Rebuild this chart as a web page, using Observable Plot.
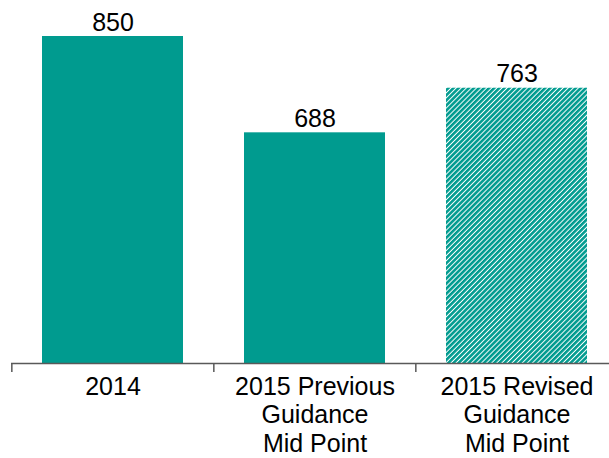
<!DOCTYPE html>
<html>
<head>
<meta charset="utf-8">
<script src="https://cdn.jsdelivr.net/npm/d3@7"></script>
<script src="https://cdn.jsdelivr.net/npm/@observablehq/plot@0.6"></script>
<style>
  html, body { margin: 0; padding: 0; background: #fff; }
  #chart { width: 609px; height: 458px; }
</style>
</head>
<body>
<div id="chart"></div>
<script>
const categories = ["2014", "2015 Previous Guidance Mid Point", "2015 Revised Guidance Mid Point"];
const values = [850, 688, 763];
const tickLabels = ["2014", "2015 Previous\nGuidance\nMid Point", "2015 Revised\nGuidance\nMid Point"];
const revised = ["2015 Revised Guidance Mid Point"];

const rows = categories.map((c, i) => ({category: c, value: values[i]}));

const teal = "#009B8F";
const xStart = 11, xEnd = 618;
const step = (xEnd - xStart) / categories.length;

const plot = Plot.plot({
  width: 609,
  height: 458,
  marginTop: 36,
  marginBottom: 95,
  marginLeft: 11,
  marginRight: 0,
  style: {fontFamily: "'Liberation Sans', Arial, sans-serif", fontSize: "25px", background: "#fff"},
  x: {domain: categories, range: [xStart, xEnd], paddingInner: 0.3, paddingOuter: 0.15, label: null},
  y: {domain: [300, 850], clamp: true, axis: null},
  marks: [
    Plot.barY(rows.filter(d => !revised.includes(d.category)), {x: "category", y: "value", fill: teal}),
    Plot.barY(rows.filter(d => revised.includes(d.category)), {x: "category", y: "value", fill: "url(#hatch)"}),
    Plot.text(rows, {x: "category", y: "value", text: d => String(d.value), lineAnchor: "bottom", dy: -6, fontSize: 25, fill: "#000"}),
    Plot.ruleY([300], {stroke: "#595959", strokeWidth: 1.5}),
    Plot.axisX({tickSize: 9, fill: "none", dx: -step / 2, stroke: "#595959", strokeWidth: 1.5, label: null}),
    Plot.axisX({tickSize: 0, tickPadding: 11, tickFormat: d => tickLabels[categories.indexOf(d)], fontSize: 25, lineHeight: 1.14, fill: "#000", label: null})
  ]
});

const ns = "http://www.w3.org/2000/svg";
const defs = document.createElementNS(ns, "defs");
const pat = document.createElementNS(ns, "pattern");
pat.setAttribute("id", "hatch");
pat.setAttribute("patternUnits", "userSpaceOnUse");
pat.setAttribute("width", "3.6");
pat.setAttribute("height", "3.6");
pat.setAttribute("patternTransform", "rotate(45)");
const bg = document.createElementNS(ns, "rect");
bg.setAttribute("width", "3.6"); bg.setAttribute("height", "3.6"); bg.setAttribute("fill", "#fff");
const stripe = document.createElementNS(ns, "rect");
stripe.setAttribute("width", "2.6"); stripe.setAttribute("height", "3.6"); stripe.setAttribute("fill", teal);
pat.appendChild(bg); pat.appendChild(stripe);
defs.appendChild(pat);
plot.insertBefore(defs, plot.firstChild);

document.getElementById("chart").appendChild(plot);
</script>
</body>
</html>
